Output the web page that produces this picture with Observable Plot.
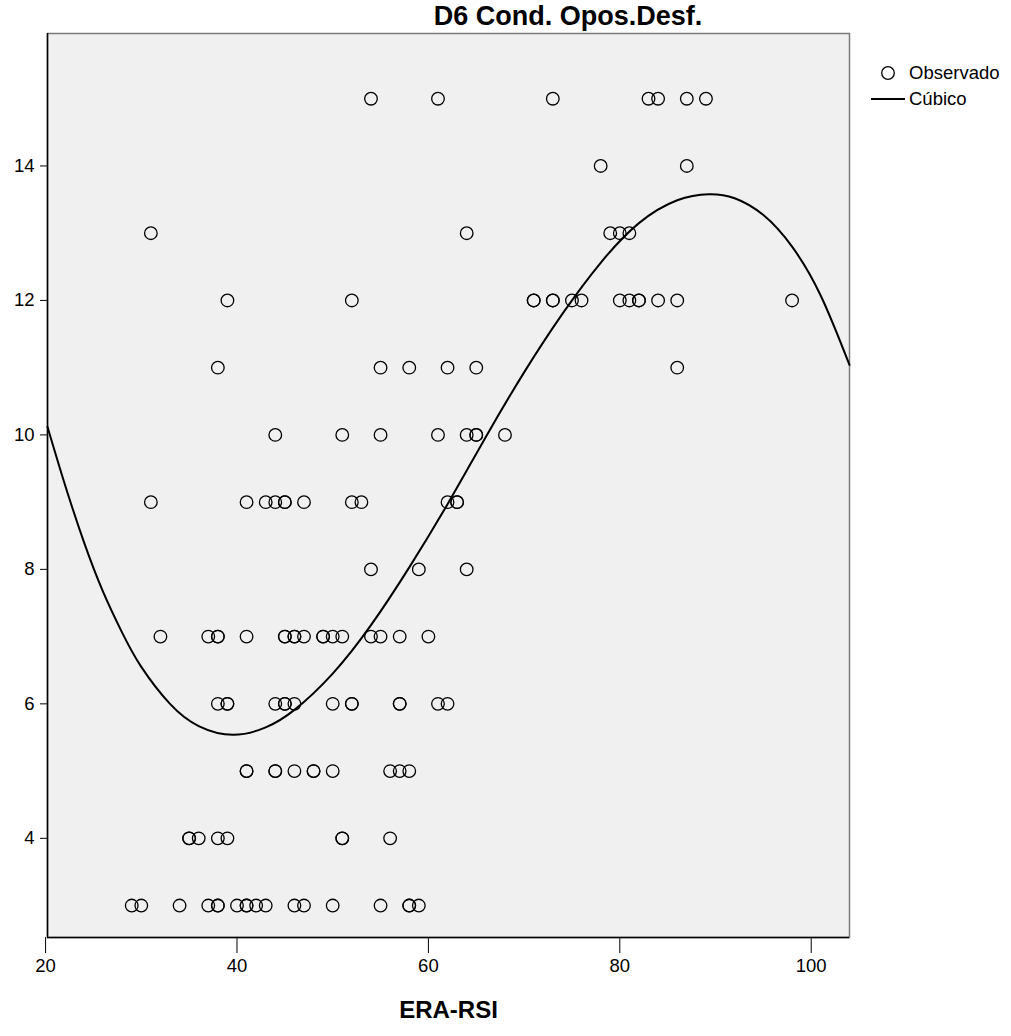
<!DOCTYPE html>
<html>
<head>
<meta charset="utf-8">
<script src="https://cdn.jsdelivr.net/npm/d3@7"></script>
<script src="https://cdn.jsdelivr.net/npm/@observablehq/plot@0.6"></script>
<style>
  html, body { margin: 0; padding: 0; background: #fff; }
  #wrap { position: relative; width: 1011px; height: 1036px; font-family: "Liberation Sans", Arial, sans-serif; color: #000; }
  #title { position: absolute; top: 1px; left: 0; width: 1136px; text-align: center; font-weight: bold; font-size: 27px; }
  #legend { position: absolute; left: 870px; top: 60px; font-size: 18.5px; }
  #legend div { display: flex; align-items: center; height: 26px; }
  #chart { position: absolute; left: 0; top: 0; }
  #chart svg [aria-label="x-axis label"] text { font-weight: bold; font-size: 24px; }
</style>
</head>
<body>
<div id="wrap">
  <div id="chart"></div>
  <div id="title">D6 Cond. Opos.Desf.</div>
  <div id="legend"></div>
</div>
<script>
// Observed points: ERA-RSI (x) and D6 Cond. Opos.Desf. (y)
const eraRsi = [
  54, 61, 73, 83, 84, 87, 89,
  78, 87,
  31, 64, 79, 80, 81,
  39, 52, 71, 71, 73, 73, 75, 76, 80, 81, 82, 82, 84, 86, 98,
  38, 55, 58, 62, 65, 86,
  44, 51, 55, 61, 64, 65, 65, 68,
  31, 41, 43, 44, 45, 45, 47, 52, 53, 62, 63, 63,
  54, 59, 64,
  32, 37, 38, 38, 41, 45, 45, 46, 46, 47, 49, 49, 50, 51, 54, 55, 57, 60,
  38, 39, 39, 44, 45, 45, 46, 50, 52, 52, 57, 57, 61, 62,
  41, 41, 44, 44, 46, 48, 48, 50, 56, 57, 58,
  35, 35, 36, 38, 39, 51, 51, 56,
  29, 30, 34, 37, 38, 38, 40, 41, 41, 42, 43, 46, 47, 50, 55, 58, 58, 59
];
const d6 = [
  15, 15, 15, 15, 15, 15, 15,
  14, 14,
  13, 13, 13, 13, 13,
  12, 12, 12, 12, 12, 12, 12, 12, 12, 12, 12, 12, 12, 12, 12,
  11, 11, 11, 11, 11, 11,
  10, 10, 10, 10, 10, 10, 10, 10,
  9, 9, 9, 9, 9, 9, 9, 9, 9, 9, 9, 9,
  8, 8, 8,
  7, 7, 7, 7, 7, 7, 7, 7, 7, 7, 7, 7, 7, 7, 7, 7, 7, 7,
  6, 6, 6, 6, 6, 6, 6, 6, 6, 6, 6, 6, 6, 6,
  5, 5, 5, 5, 5, 5, 5, 5, 5, 5, 5,
  4, 4, 4, 4, 4, 4, 4, 4,
  3, 3, 3, 3, 3, 3, 3, 3, 3, 3, 3, 3, 3, 3, 3, 3, 3, 3
];

// Cubic fit curve ("Cúbico")
const cubicX = [20.2, 22, 24, 26, 28, 30, 33, 36, 39.6, 43, 46, 50, 54, 58, 62, 66, 70, 74, 78, 82, 86, 89.3, 92, 95, 98, 101, 104];
const cubicY = [10.12, 9.27, 8.41, 7.67, 7.06, 6.55, 6.0, 5.67, 5.54, 5.65, 5.91, 6.45, 7.17, 8.03, 8.97, 9.97, 10.93, 11.8, 12.56, 13.15, 13.49, 13.58, 13.52, 13.27, 12.8, 12.07, 11.04];

const xTicks = [20, 40, 60, 80, 100];
const yTicks = [4, 6, 8, 10, 12, 14];
const xDomain = [20.2, 104];
const yDomain = [2.525, 15.97];

const observed = eraRsi.map((x, i) => ({x, y: d6[i]}));
const cubic = cubicX.map((x, i) => ({x, y: cubicY[i]}));

const chart = Plot.plot({
  width: 1011,
  height: 1036,
  marginLeft: 47,
  marginRight: 162,
  marginTop: 33,
  marginBottom: 99,
  style: {background: "transparent", fontFamily: "'Liberation Sans', Arial, sans-serif", fontSize: "18.5px", color: "#000"},
  x: {domain: xDomain, ticks: xTicks, tickSize: 16, tickPadding: 5, label: "ERA-RSI", labelAnchor: "center", labelArrow: "none", labelOffset: 80},
  y: {domain: yDomain, ticks: yTicks, tickSize: 7, tickPadding: 6, label: null},
  marks: [
    Plot.frame({fill: "#f0f0f0", stroke: "#7a7a7a", strokeWidth: 1.5}),
    Plot.ruleX([xDomain[0]], {stroke: "#000", strokeWidth: 1.5}),
    Plot.ruleY([yDomain[0]], {stroke: "#000", strokeWidth: 1.5}),
    Plot.line(cubic, {x: "x", y: "y", curve: "natural", stroke: "#000", strokeWidth: 2}),
    Plot.dot(observed, {x: "x", y: "y", r: 6.3, stroke: "#000", strokeWidth: 1.3, fill: "none"})
  ]
});
document.getElementById("chart").appendChild(chart);

// Legend
const legend = document.getElementById("legend");
const ns = "http://www.w3.org/2000/svg";
function item(kind, label) {
  const row = document.createElement("div");
  const s = document.createElementNS(ns, "svg");
  s.setAttribute("width", 36); s.setAttribute("height", 20);
  s.style.marginRight = "3px";
  if (kind === "dot") {
    const c = document.createElementNS(ns, "circle");
    c.setAttribute("cx", 18); c.setAttribute("cy", 10); c.setAttribute("r", 6.3);
    c.setAttribute("fill", "none"); c.setAttribute("stroke", "#000"); c.setAttribute("stroke-width", 1.3);
    s.appendChild(c);
  } else {
    const l = document.createElementNS(ns, "line");
    l.setAttribute("x1", 1); l.setAttribute("x2", 35); l.setAttribute("y1", 10); l.setAttribute("y2", 10);
    l.setAttribute("stroke", "#000"); l.setAttribute("stroke-width", 2);
    s.appendChild(l);
  }
  row.appendChild(s);
  const t = document.createElement("span");
  t.textContent = label;
  row.appendChild(t);
  legend.appendChild(row);
}
item("dot", "Observado");
item("line", "Cúbico");
</script>
</body>
</html>
